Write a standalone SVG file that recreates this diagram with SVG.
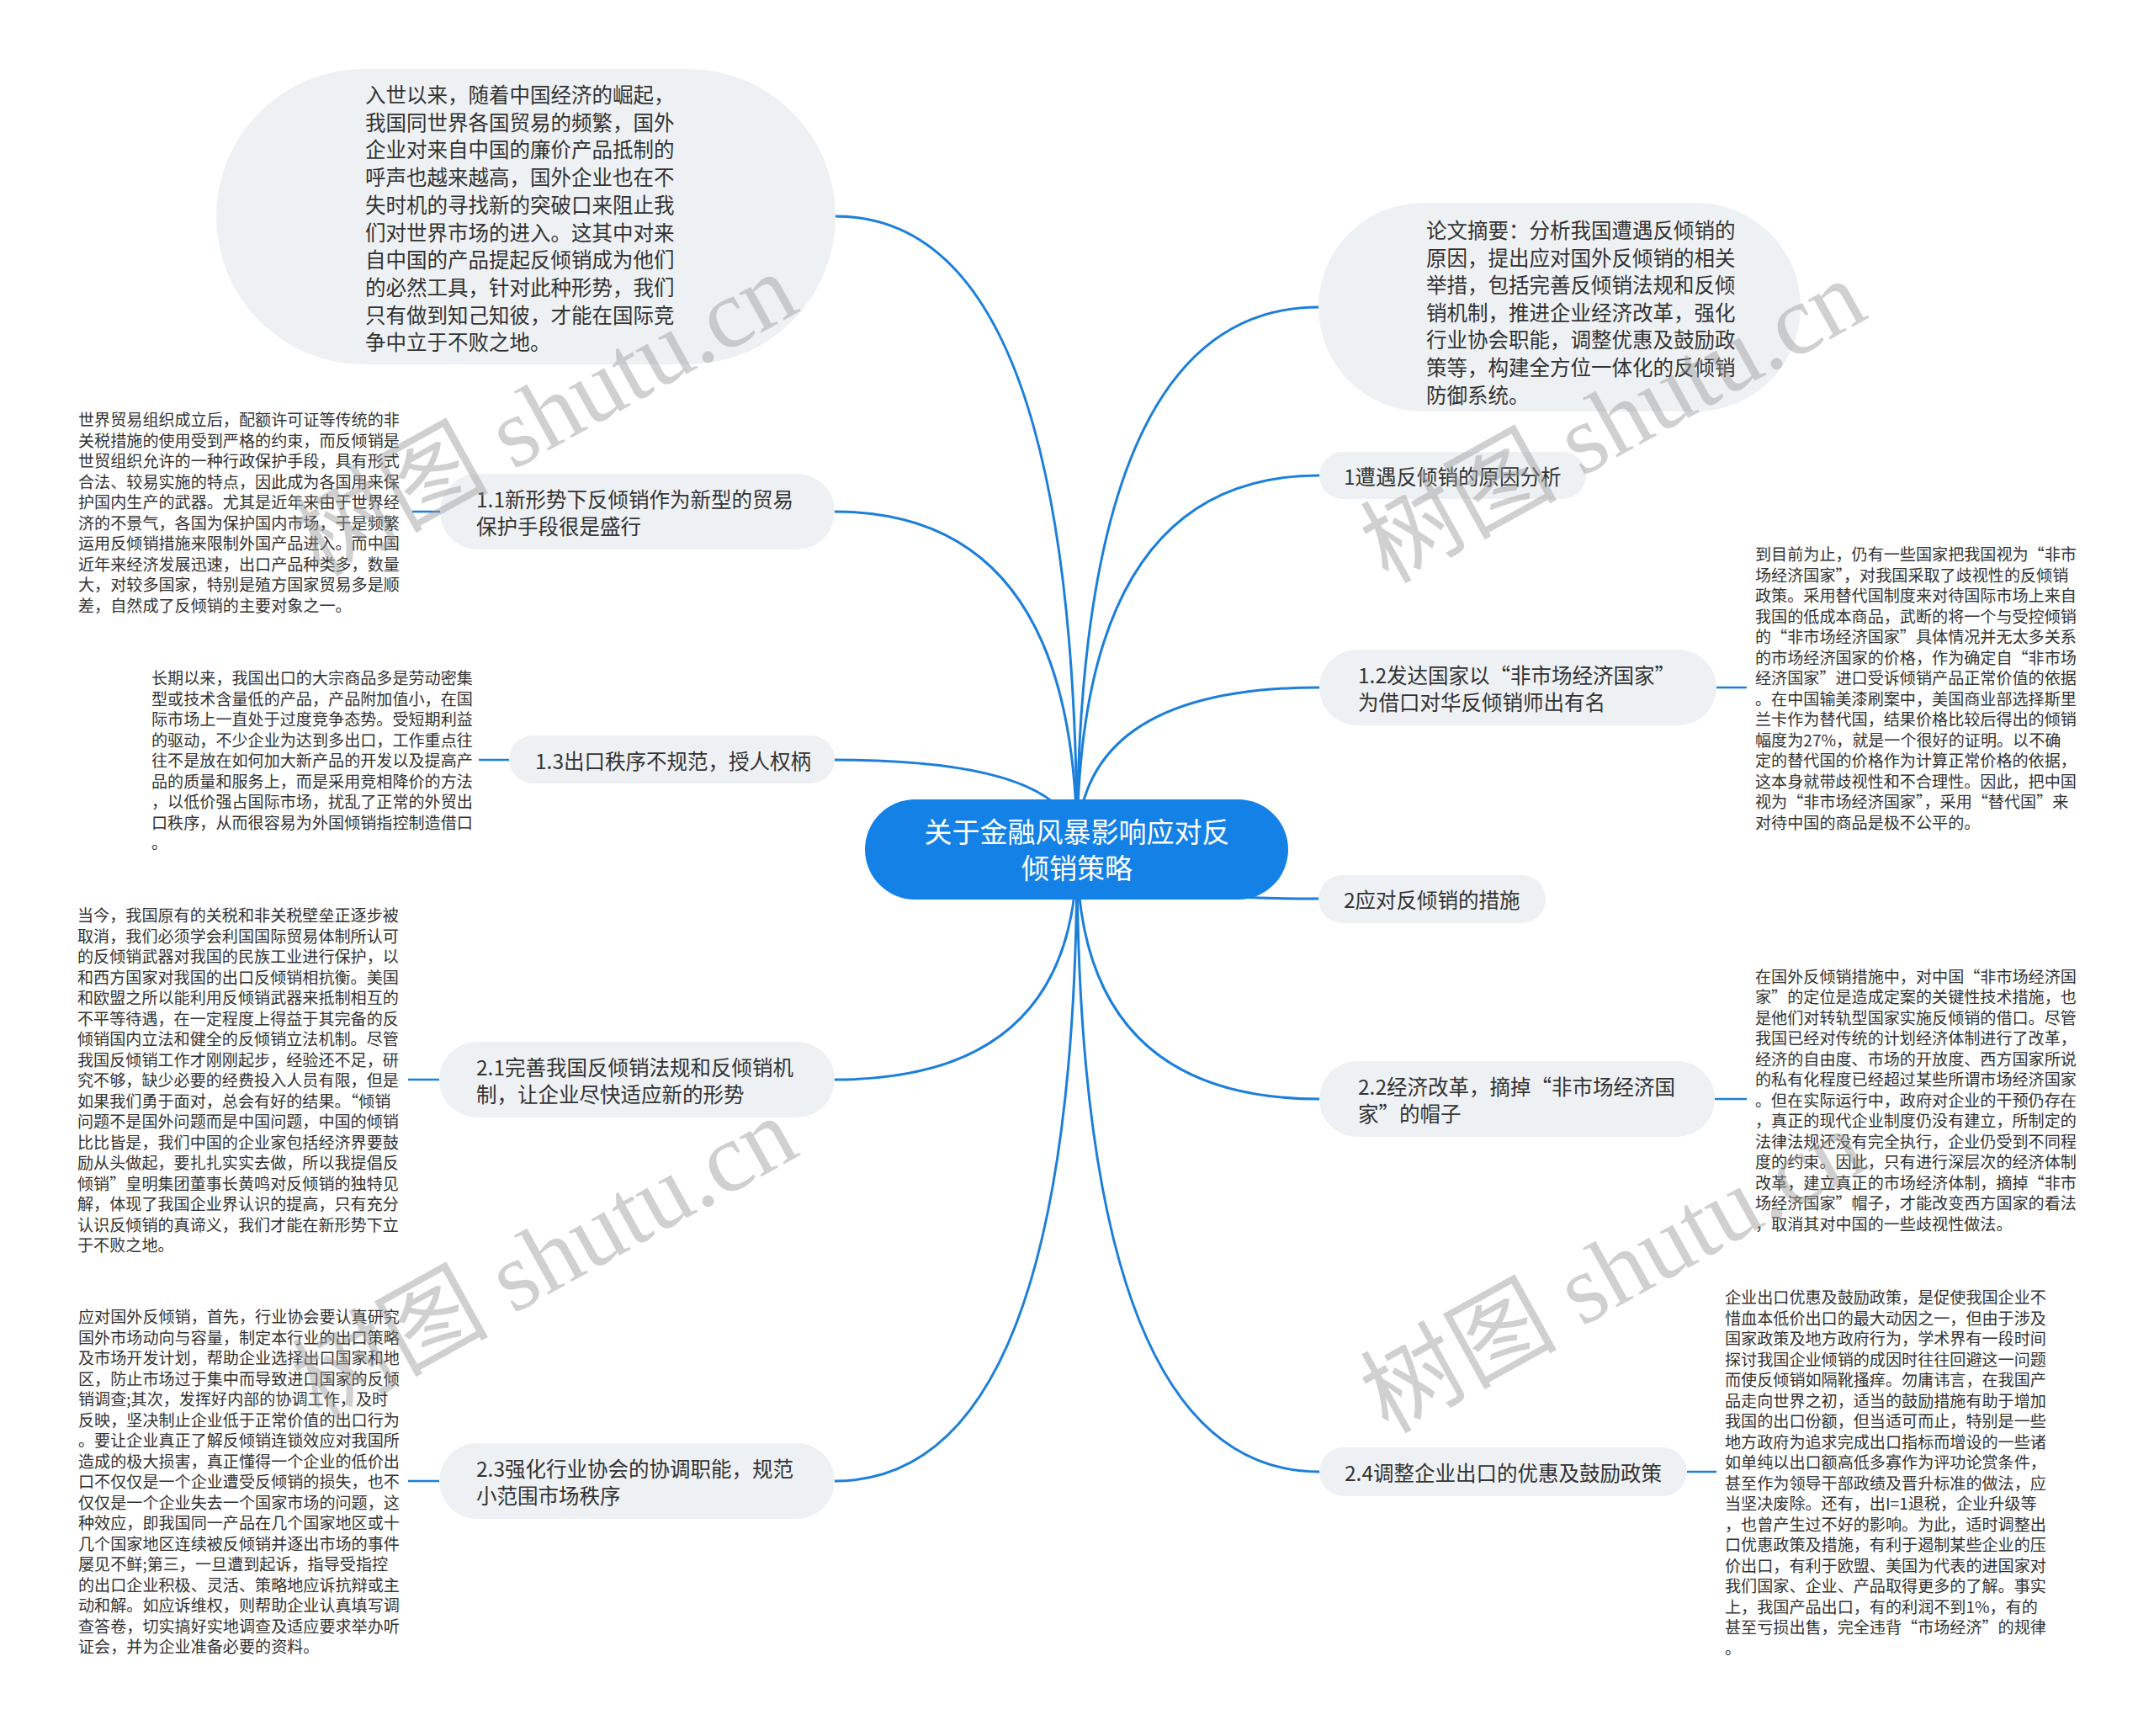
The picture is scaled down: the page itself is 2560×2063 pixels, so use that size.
<svg xmlns="http://www.w3.org/2000/svg" width="2560" height="2063" viewBox="0 0 2560 2063">
<style>
.box{fill:#EEF1F4}
.root{fill:#1481E6}
.link{fill:none;stroke:#1B7FDB;stroke-width:3;stroke-linecap:round}
.sub{fill:none;stroke:#1B7FDB;stroke-width:2.5}
text{font-family:"Noto Sans CJK SC","Noto Sans",sans-serif;dominant-baseline:central;fill:#333}
.nt{font-size:24.5px}
.bt{font-size:24.5px}
.dt{font-size:19.1px}
.ct{font-size:33px;fill:#fff;text-anchor:middle}
.wm{font-family:"Liberation Serif","Noto Sans CJK SC",serif;font-size:117px;fill:#999;opacity:0.45}
</style>
<rect width="2560" height="2063" fill="#fff"/>
<g id="connectors">
<path class="link" d="M1280 1010 Q1280 257 993 257"/>
<path class="link" d="M1280 1010 Q1280 608 992 608"/>
<path class="link" d="M1280 1010 Q1280 903 992 903"/>
<path class="link" d="M1280 1010 Q1280 1283 992 1283"/>
<path class="link" d="M1280 1010 Q1280 1760 992 1760"/>
<path class="link" d="M1280 1010 Q1280 365 1567 365"/>
<path class="link" d="M1280 1010 Q1280 565 1568 565"/>
<path class="link" d="M1280 1010 Q1280 817 1568 817"/>
<path class="link" d="M1280 1010 Q1280 1068 1567 1068"/>
<path class="link" d="M1280 1010 Q1280 1306 1568 1306"/>
<path class="link" d="M1280 1010 Q1280 1749 1568 1749"/>
<path class="sub" d="M523 608 H490"/>
<path class="sub" d="M605 903 H569"/>
<path class="sub" d="M522 1283 H485"/>
<path class="sub" d="M522 1760 H485"/>
<path class="sub" d="M2040 817 H2076"/>
<path class="sub" d="M2038 1306 H2076"/>
<path class="sub" d="M2005 1749 H2040"/>
</g>
<g id="node-root">
<rect class="root" x="1028" y="950" width="503" height="119" rx="59.5"/>
<text class="ct"><tspan x="1280" y="987">关于金融风暴影响应对反</tspan><tspan x="1280" y="1030">倾销策略</tspan></text>
</g>
<g id="node-intro">
<rect class="box" x="257" y="82" width="736" height="351" rx="175.5"/>
<text class="bt"><tspan x="434" y="111">入世以来，随着中国经济的崛起，</tspan><tspan x="434" dy="32.7">我国同世界各国贸易的频繁，国外</tspan><tspan x="434" dy="32.7">企业对来自中国的廉价产品抵制的</tspan><tspan x="434" dy="32.7">呼声也越来越高，国外企业也在不</tspan><tspan x="434" dy="32.7">失时机的寻找新的突破口来阻止我</tspan><tspan x="434" dy="32.7">们对世界市场的进入。这其中对来</tspan><tspan x="434" dy="32.7">自中国的产品提起反倾销成为他们</tspan><tspan x="434" dy="32.7">的必然工具，针对此种形势，我们</tspan><tspan x="434" dy="32.7">只有做到知己知彼，才能在国际竞</tspan><tspan x="434" dy="32.7">争中立于不败之地。</tspan></text>
</g>
<g id="node-abstract">
<rect class="box" x="1567" y="241" width="573" height="248" rx="124"/>
<text class="bt"><tspan x="1695" y="272">论文摘要：分析我国遭遇反倾销的</tspan><tspan x="1695" dy="32.6">原因，提出应对国外反倾销的相关</tspan><tspan x="1695" dy="32.6">举措，包括完善反倾销法规和反倾</tspan><tspan x="1695" dy="32.6">销机制，推进企业经济改革，强化</tspan><tspan x="1695" dy="32.6">行业协会职能，调整优惠及鼓励政</tspan><tspan x="1695" dy="32.6">策等，构建全方位一体化的反倾销</tspan><tspan x="1695" dy="32.6">防御系统。</tspan></text>
</g>
<g id="node-1">
<rect class="box" x="1568" y="537" width="317" height="56" rx="28"/>
<text class="nt" x="1597" y="565">1遭遇反倾销的原因分析</text>
</g>
<g id="node-1-1">
<rect class="box" x="523" y="563" width="469" height="90" rx="45"/>
<text class="nt"><tspan x="566" y="592">1.1新形势下反倾销作为新型的贸易</tspan><tspan x="566" y="624">保护手段很是盛行</tspan></text>
</g>
<g id="desc-1-1">
<text class="dt"><tspan x="93" y="498">世界贸易组织成立后，配额许可证等传统的非</tspan><tspan x="93" dy="24.5">关税措施的使用受到严格的约束，而反倾销是</tspan><tspan x="93" dy="24.5">世贸组织允许的一种行政保护手段，具有形式</tspan><tspan x="93" dy="24.5">合法、较易实施的特点，因此成为各国用来保</tspan><tspan x="93" dy="24.5">护国内生产的武器。尤其是近年来由于世界经</tspan><tspan x="93" dy="24.5">济的不景气，各国为保护国内市场，于是频繁</tspan><tspan x="93" dy="24.5">运用反倾销措施来限制外国产品进入。而中国</tspan><tspan x="93" dy="24.5">近年来经济发展迅速，出口产品种类多，数量</tspan><tspan x="93" dy="24.5">大，对较多国家，特别是殖方国家贸易多是顺</tspan><tspan x="93" dy="24.5">差，自然成了反倾销的主要对象之一。</tspan></text>
</g>
<g id="node-1-2">
<rect class="box" x="1568" y="772" width="472" height="90" rx="45"/>
<text class="nt"><tspan x="1614" y="801">1.2发达国家以“非市场经济国家”</tspan><tspan x="1614" y="833">为借口对华反倾销师出有名</tspan></text>
</g>
<g id="desc-1-2">
<text class="dt"><tspan x="2086" y="658">到目前为止，仍有一些国家把我国视为“非市</tspan><tspan x="2086" dy="24.5">场经济国家”，对我国采取了歧视性的反倾销</tspan><tspan x="2086" dy="24.5">政策。采用替代国制度来对待国际市场上来自</tspan><tspan x="2086" dy="24.5">我国的低成本商品，武断的将一个与受控倾销</tspan><tspan x="2086" dy="24.5">的“非市场经济国家”具体情况并无太多关系</tspan><tspan x="2086" dy="24.5">的市场经济国家的价格，作为确定自“非市场</tspan><tspan x="2086" dy="24.5">经济国家”进口受诉倾销产品正常价值的依据</tspan><tspan x="2086" dy="24.5">。在中国输美漆刷案中，美国商业部选择斯里</tspan><tspan x="2086" dy="24.5">兰卡作为替代国，结果价格比较后得出的倾销</tspan><tspan x="2086" dy="24.5">幅度为27%，就是一个很好的证明。以不确</tspan><tspan x="2086" dy="24.5">定的替代国的价格作为计算正常价格的依据，</tspan><tspan x="2086" dy="24.5">这本身就带歧视性和不合理性。因此，把中国</tspan><tspan x="2086" dy="24.5">视为“非市场经济国家”，采用“替代国”来</tspan><tspan x="2086" dy="24.5">对待中国的商品是极不公平的。</tspan></text>
</g>
<g id="node-1-3">
<rect class="box" x="605" y="874" width="387" height="57" rx="28.5"/>
<text class="nt" x="636" y="903">1.3出口秩序不规范，授人权柄</text>
</g>
<g id="desc-1-3">
<text class="dt"><tspan x="180" y="805">长期以来，我国出口的大宗商品多是劳动密集</tspan><tspan x="180" dy="24.5">型或技术含量低的产品，产品附加值小，在国</tspan><tspan x="180" dy="24.5">际市场上一直处于过度竞争态势。受短期利益</tspan><tspan x="180" dy="24.5">的驱动，不少企业为达到多出口，工作重点往</tspan><tspan x="180" dy="24.5">往不是放在如何加大新产品的开发以及提高产</tspan><tspan x="180" dy="24.5">品的质量和服务上，而是采用竞相降价的方法</tspan><tspan x="180" dy="24.5">，以低价强占国际市场，扰乱了正常的外贸出</tspan><tspan x="180" dy="24.5">口秩序，从而很容易为外国倾销指控制造借口</tspan><tspan x="180" dy="24.5">。</tspan></text>
</g>
<g id="node-2">
<rect class="box" x="1567" y="1040" width="270" height="57" rx="28.5"/>
<text class="nt" x="1597" y="1068">2应对反倾销的措施</text>
</g>
<g id="node-2-1">
<rect class="box" x="522" y="1238" width="470" height="90" rx="45"/>
<text class="nt"><tspan x="566" y="1267">2.1完善我国反倾销法规和反倾销机</tspan><tspan x="566" y="1299">制，让企业尽快适应新的形势</tspan></text>
</g>
<g id="desc-2-1">
<text class="dt"><tspan x="92" y="1087">当今，我国原有的关税和非关税壁垒正逐步被</tspan><tspan x="92" dy="24.5">取消，我们必须学会利国国际贸易体制所认可</tspan><tspan x="92" dy="24.5">的反倾销武器对我国的民族工业进行保护，以</tspan><tspan x="92" dy="24.5">和西方国家对我国的出口反倾销相抗衡。美国</tspan><tspan x="92" dy="24.5">和欧盟之所以能利用反倾销武器来抵制相互的</tspan><tspan x="92" dy="24.5">不平等待遇，在一定程度上得益于其完备的反</tspan><tspan x="92" dy="24.5">倾销国内立法和健全的反倾销立法机制。尽管</tspan><tspan x="92" dy="24.5">我国反倾销工作才刚刚起步，经验还不足，研</tspan><tspan x="92" dy="24.5">究不够，缺少必要的经费投入人员有限，但是</tspan><tspan x="92" dy="24.5">如果我们勇于面对，总会有好的结果。“倾销</tspan><tspan x="92" dy="24.5">问题不是国外问题而是中国问题，中国的倾销</tspan><tspan x="92" dy="24.5">比比皆是，我们中国的企业家包括经济界要鼓</tspan><tspan x="92" dy="24.5">励从头做起，要扎扎实实去做，所以我提倡反</tspan><tspan x="92" dy="24.5">倾销”皇明集团董事长黄鸣对反倾销的独特见</tspan><tspan x="92" dy="24.5">解，体现了我国企业界认识的提高，只有充分</tspan><tspan x="92" dy="24.5">认识反倾销的真谛义，我们才能在新形势下立</tspan><tspan x="92" dy="24.5">于不败之地。</tspan></text>
</g>
<g id="node-2-2">
<rect class="box" x="1568" y="1261" width="470" height="90" rx="45"/>
<text class="nt"><tspan x="1614" y="1290">2.2经济改革，摘掉“非市场经济国</tspan><tspan x="1614" y="1322">家”的帽子</tspan></text>
</g>
<g id="desc-2-2">
<text class="dt"><tspan x="2086" y="1159.5">在国外反倾销措施中，对中国“非市场经济国</tspan><tspan x="2086" dy="24.5">家”的定位是造成定案的关键性技术措施，也</tspan><tspan x="2086" dy="24.5">是他们对转轨型国家实施反倾销的借口。尽管</tspan><tspan x="2086" dy="24.5">我国已经对传统的计划经济体制进行了改革，</tspan><tspan x="2086" dy="24.5">经济的自由度、市场的开放度、西方国家所说</tspan><tspan x="2086" dy="24.5">的私有化程度已经超过某些所谓市场经济国家</tspan><tspan x="2086" dy="24.5">。但在实际运行中，政府对企业的干预仍存在</tspan><tspan x="2086" dy="24.5">，真正的现代企业制度仍没有建立，所制定的</tspan><tspan x="2086" dy="24.5">法律法规还没有完全执行，企业仍受到不同程</tspan><tspan x="2086" dy="24.5">度的约束。因此，只有进行深层次的经济体制</tspan><tspan x="2086" dy="24.5">改革，建立真正的市场经济体制，摘掉“非市</tspan><tspan x="2086" dy="24.5">场经济国家”帽子，才能改变西方国家的看法</tspan><tspan x="2086" dy="24.5">，取消其对中国的一些歧视性做法。</tspan></text>
</g>
<g id="node-2-3">
<rect class="box" x="522" y="1715" width="470" height="90" rx="45"/>
<text class="nt"><tspan x="566" y="1744">2.3强化行业协会的协调职能，规范</tspan><tspan x="566" y="1776">小范围市场秩序</tspan></text>
</g>
<g id="desc-2-3">
<text class="dt"><tspan x="93" y="1564">应对国外反倾销，首先，行业协会要认真研究</tspan><tspan x="93" dy="24.5">国外市场动向与容量，制定本行业的出口策略</tspan><tspan x="93" dy="24.5">及市场开发计划，帮助企业选择出口国家和地</tspan><tspan x="93" dy="24.5">区，防止市场过于集中而导致进口国家的反倾</tspan><tspan x="93" dy="24.5">销调查;其次，发挥好内部的协调工作，及时</tspan><tspan x="93" dy="24.5">反映，坚决制止企业低于正常价值的出口行为</tspan><tspan x="93" dy="24.5">。要让企业真正了解反倾销连锁效应对我国所</tspan><tspan x="93" dy="24.5">造成的极大损害，真正懂得一个企业的低价出</tspan><tspan x="93" dy="24.5">口不仅仅是一个企业遭受反倾销的损失，也不</tspan><tspan x="93" dy="24.5">仅仅是一个企业失去一个国家市场的问题，这</tspan><tspan x="93" dy="24.5">种效应，即我国同一产品在几个国家地区或十</tspan><tspan x="93" dy="24.5">几个国家地区连续被反倾销并逐出市场的事件</tspan><tspan x="93" dy="24.5">屡见不鲜;第三，一旦遭到起诉，指导受指控</tspan><tspan x="93" dy="24.5">的出口企业积极、灵活、策略地应诉抗辩或主</tspan><tspan x="93" dy="24.5">动和解。如应诉维权，则帮助企业认真填写调</tspan><tspan x="93" dy="24.5">查答卷，切实搞好实地调查及适应要求举办听</tspan><tspan x="93" dy="24.5">证会，并为企业准备必要的资料。</tspan></text>
</g>
<g id="node-2-4">
<rect class="box" x="1568" y="1720" width="437" height="58" rx="29"/>
<text class="nt" x="1598" y="1749">2.4调整企业出口的优惠及鼓励政策</text>
</g>
<g id="desc-2-4">
<text class="dt"><tspan x="2050" y="1541">企业出口优惠及鼓励政策，是促使我国企业不</tspan><tspan x="2050" dy="24.5">惜血本低价出口的最大动因之一，但由于涉及</tspan><tspan x="2050" dy="24.5">国家政策及地方政府行为，学术界有一段时间</tspan><tspan x="2050" dy="24.5">探讨我国企业倾销的成因时往往回避这一问题</tspan><tspan x="2050" dy="24.5">而使反倾销如隔靴搔痒。勿庸讳言，在我国产</tspan><tspan x="2050" dy="24.5">品走向世界之初，适当的鼓励措施有助于增加</tspan><tspan x="2050" dy="24.5">我国的出口份额，但当适可而止，特别是一些</tspan><tspan x="2050" dy="24.5">地方政府为追求完成出口指标而增设的一些诸</tspan><tspan x="2050" dy="24.5">如单纯以出口额高低多寡作为评功论赏条件，</tspan><tspan x="2050" dy="24.5">甚至作为领导干部政绩及晋升标准的做法，应</tspan><tspan x="2050" dy="24.5">当坚决废除。还有，出I=1退税，企业升级等</tspan><tspan x="2050" dy="24.5">，也曾产生过不好的影响。为此，适时调整出</tspan><tspan x="2050" dy="24.5">口优惠政策及措施，有利于遏制某些企业的压</tspan><tspan x="2050" dy="24.5">价出口，有利于欧盟、美国为代表的进国家对</tspan><tspan x="2050" dy="24.5">我们国家、企业、产品取得更多的了解。事实</tspan><tspan x="2050" dy="24.5">上，我国产品出口，有的利润不到1%，有的</tspan><tspan x="2050" dy="24.5">甚至亏损出售，完全违背“市场经济”的规律</tspan><tspan x="2050" dy="24.5">。</tspan></text>
</g>
<g id="watermarks">
<text class="wm" x="360" y="652" transform="rotate(-29 360 652)">树图 shutu.cn</text>
<text class="wm" x="1630" y="660" transform="rotate(-29 1630 660)">树图 shutu.cn</text>
<text class="wm" x="360" y="1655" transform="rotate(-29 360 1655)">树图 shutu.cn</text>
<text class="wm" x="1630" y="1670" transform="rotate(-29 1630 1670)">树图 shutu.cn</text>
</g>
</svg>
